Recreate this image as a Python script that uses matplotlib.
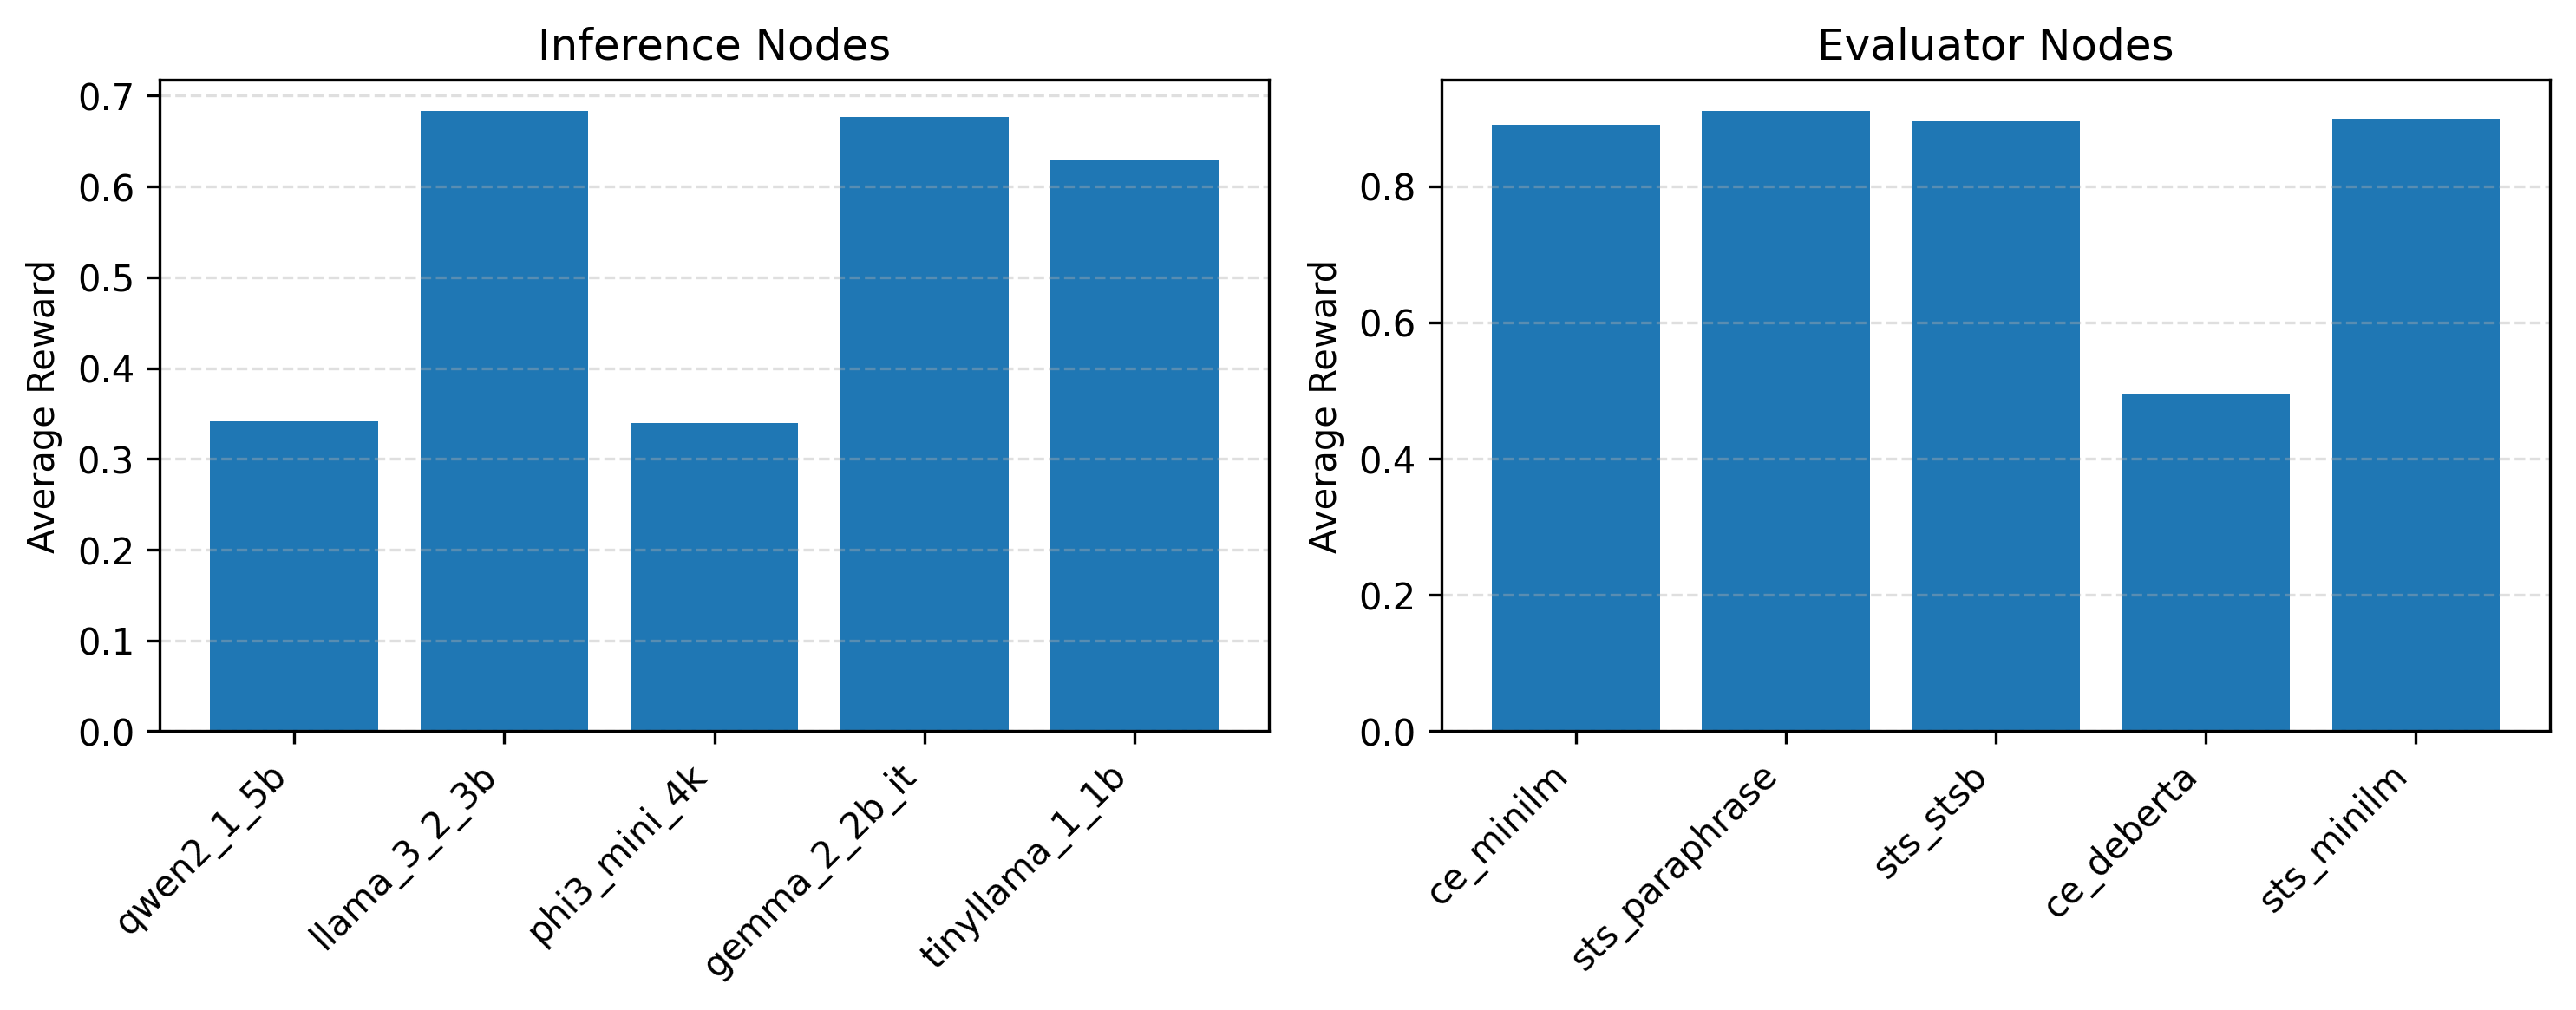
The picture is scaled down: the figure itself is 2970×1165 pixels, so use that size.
import matplotlib.pyplot as plt

# Average reward per node
inference_nodes = ['qwen2_1_5b', 'llama_3_2_3b', 'phi3_mini_4k', 'gemma_2_2b_it', 'tinyllama_1_1b']
inference_rewards = [0.341, 0.683, 0.339, 0.676, 0.630]

evaluator_nodes = ['ce_minilm', 'sts_paraphrase', 'sts_stsb', 'ce_deberta', 'sts_minilm']
evaluator_rewards = [0.890, 0.910, 0.895, 0.494, 0.899]

fig, axes = plt.subplots(1, 2, figsize=(10, 4))

panels = [
    (axes[0], inference_nodes, inference_rewards, 'Inference Nodes'),
    (axes[1], evaluator_nodes, evaluator_rewards, 'Evaluator Nodes'),
]

for ax, names, rewards, title in panels:
    ax.bar(names, rewards, color='#1f77b4')
    ax.set_title(title)
    ax.set_ylabel('Average Reward')
    ax.grid(axis='y', linestyle='--', alpha=0.4)
    plt.setp(ax.get_xticklabels(), rotation=45, ha='right')

plt.tight_layout()
plt.savefig('out.png', dpi=300, bbox_inches='tight')
